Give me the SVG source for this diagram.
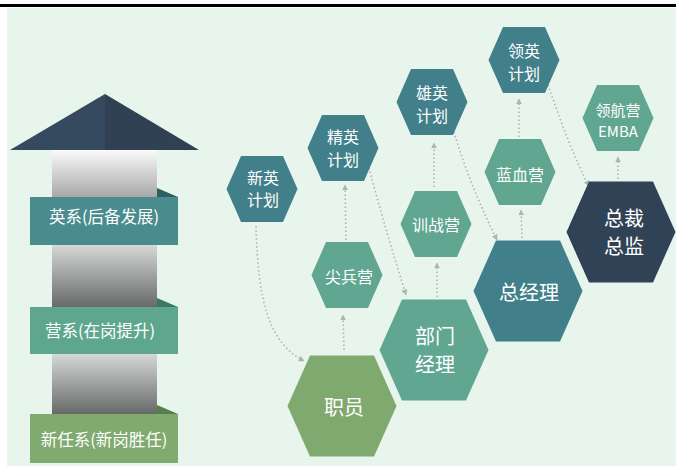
<svg xmlns="http://www.w3.org/2000/svg" width="676" height="476" viewBox="0 0 676 476">
  <defs>
    <style>
      .t { font-family: "Noto Sans CJK SC", "Noto Sans", sans-serif; fill: #ffffff; text-anchor: middle; }
      .s { font-size: 16px; }
      .e { font-size: 15px; }
      .l { font-size: 20px; }
      .b { font-size: 16.5px; }
      .teal { fill: #41808a; }
      .green { fill: #60a690; }
      .olive { fill: #7fa96f; }
      .navy { fill: #2f4256; }
      .conn { fill: none; stroke: #a9b8a8; stroke-width: 1.6; stroke-dasharray: 1.5 2.5; marker-end: url(#arr); }
    </style>
    <marker id="arr" viewBox="0 0 10 10" refX="9" refY="5" markerWidth="6" markerHeight="6" markerUnits="userSpaceOnUse" orient="auto">
      <path d="M0,0 L10,5 L0,10 z" fill="#a9b8a8"/>
    </marker>
    <polygon id="hexS" points="-35.5,0 -21,-33 21,-33 35.5,0 21,33 -21,33"/>
    <polygon id="hexL" points="-54.5,0 -32,-50.5 32,-50.5 54.5,0 32,50.5 -32,50.5"/>
    <linearGradient id="pil1" x1="0" y1="0" x2="0" y2="1">
      <stop offset="0" stop-color="#fafafa"/>
      <stop offset="1" stop-color="#a8a8a8"/>
    </linearGradient>
    <linearGradient id="pil2" x1="0" y1="0" x2="0" y2="1">
      <stop offset="0" stop-color="#d6d8d8"/>
      <stop offset="1" stop-color="#686a6a"/>
    </linearGradient>
  </defs>

  <!-- page frame -->
  <rect x="0" y="0" width="676" height="476" fill="#ffffff"/>
  <rect x="0" y="4" width="676" height="3" fill="#000000"/>
  <rect x="7" y="8" width="669" height="458" fill="#e7f5ed"/>

  <!-- tower: roof, pillar and level banners -->
  <g id="tower">
    <polygon points="10,150 105,94 105,150" fill="#35495f"/>
    <polygon points="105,94 199,150 105,150" fill="#2f4152"/>
    <rect x="52" y="150" width="105" height="47" fill="url(#pil1)"/>
    <rect x="52" y="245" width="105" height="62" fill="url(#pil2)"/>
    <rect x="52" y="354" width="105" height="60" fill="url(#pil2)"/>
  </g>
  <g id="level-ying">
    <polygon points="157,188 178,197 157,197" fill="#2c5e62"/>
    <rect x="30" y="197" width="148" height="48" fill="#4a8b8e"/>
    <text class="t b" x="104" y="223">英系(后备发展)</text>
  </g>
  <g id="level-ying2">
    <polygon points="157,298 178,307 157,307" fill="#3a7864"/>
    <rect x="30" y="307" width="148" height="47" fill="#5fa68e"/>
    <text class="t b" x="100" y="337">营系(在岗提升)</text>
  </g>
  <g id="level-xin">
    <polygon points="157,405 178,414 157,414" fill="#587e4a"/>
    <rect x="30" y="414" width="148" height="49" fill="#80aa6f"/>
    <text class="t b" x="104" y="446">新任系(新岗胜任)</text>
  </g>

  <!-- connectors -->
  <g id="connectors">
    <path class="conn" d="M256,226 C258,300 268,342 304,361"/>
    <path class="conn" d="M344,350 L343,315"/>
    <path class="conn" d="M346,240 L345,185"/>
    <path class="conn" d="M369,168 C380,210 395,260 406,295"/>
    <path class="conn" d="M437,297 L437,263"/>
    <path class="conn" d="M434,187 L434,143"/>
    <path class="conn" d="M454,132 C465,170 482,210 497,240"/>
    <path class="conn" d="M522,238 L521,210"/>
    <path class="conn" d="M519,137 L519,99"/>
    <path class="conn" d="M548,85 C560,120 575,160 589,186"/>
    <path class="conn" d="M618,179 L618,157"/>
  </g>

  <!-- career nodes -->
  <g id="xinying">
    <use href="#hexS" class="teal" transform="translate(262,189)"/>
    <text class="t s"><tspan x="263" y="184">新英</tspan><tspan x="263" y="206">计划</tspan></text>
  </g>
  <g id="jingying">
    <use href="#hexS" class="teal" transform="translate(343,148)"/>
    <text class="t s"><tspan x="343" y="143">精英</tspan><tspan x="343" y="166">计划</tspan></text>
  </g>
  <g id="jianbing">
    <use href="#hexS" class="green" transform="translate(347,275)"/>
    <text class="t s" x="349" y="283">尖兵营</text>
  </g>
  <g id="xiongying">
    <use href="#hexS" class="teal" transform="translate(432,102)"/>
    <text class="t s"><tspan x="432" y="99">雄英</tspan><tspan x="432" y="122">计划</tspan></text>
  </g>
  <g id="xunzhan">
    <use href="#hexS" class="green" transform="translate(436,224)"/>
    <text class="t s" x="436" y="231">训战营</text>
  </g>
  <g id="lingying">
    <use href="#hexS" class="teal" transform="translate(524,60)"/>
    <text class="t s"><tspan x="524" y="57">领英</tspan><tspan x="524" y="80">计划</tspan></text>
  </g>
  <g id="lanxue">
    <use href="#hexS" class="green" transform="translate(520,172)"/>
    <text class="t s" x="520" y="181">蓝血营</text>
  </g>
  <g id="linghang">
    <use href="#hexS" class="green" transform="translate(618,118)"/>
    <text class="t e"><tspan x="618" y="115.5">领航营</tspan><tspan x="618" y="137">EMBA</tspan></text>
  </g>
  <g id="zongcai">
    <use href="#hexL" class="navy" transform="translate(621,232)"/>
    <text class="t l"><tspan x="624" y="225.5">总裁</tspan><tspan x="624" y="253.5">总监</tspan></text>
  </g>
  <g id="zongjingli">
    <use href="#hexL" class="teal" transform="translate(528,291)"/>
    <text class="t l" x="529" y="300">总经理</text>
  </g>
  <g id="bumen">
    <use href="#hexL" class="green" transform="translate(434,350)"/>
    <text class="t l"><tspan x="435" y="343.5">部门</tspan><tspan x="435" y="371.5">经理</tspan></text>
  </g>
  <g id="zhiyuan">
    <use href="#hexL" class="olive" transform="translate(342,406)"/>
    <text class="t l" x="344" y="415">职员</text>
  </g>
</svg>
